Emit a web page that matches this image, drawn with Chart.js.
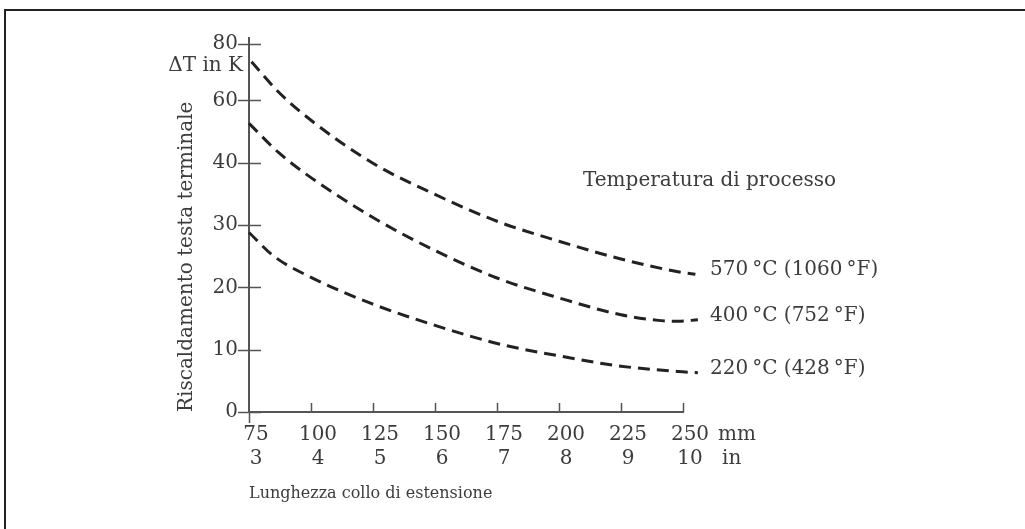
<!DOCTYPE html>
<html>
<head>
<meta charset="utf-8">
<script src="https://cdn.jsdelivr.net/npm/chart.js@4"></script>
<style>
  html, body { margin: 0; padding: 0; background: #fff; }
  #wrap { width: 1025px; height: 529px; }
</style>
</head>
<body>
<div id="wrap"><canvas id="myChart"></canvas></div>
<script>
// x axis: extension length in mm, with the inch value below
const xTicks = [75, 100, 125, 150, 175, 200, 225, 250];
const inchLabels = ['3', '4', '5', '6', '7', '8', '9', '10'];

// y axis tick positions and the labels printed on them
const yTickPos = [0, 10, 20, 30, 40, 50, 59];
const yTickText = ['0', '10', '20', '30', '40', '60', '80'];

// curves (length in mm, heating in K)
const len570 = [76, 87, 100, 125, 150, 175, 200, 225, 248, 255];
const dT570 = [56.2, 51.3, 46.8, 39.9, 34.9, 30.6, 27.4, 24.55, 22.5, 22.1];

const len400 = [75, 87, 100, 125, 150, 175, 200, 225, 240, 248, 256];
const dT400 = [46.3, 41.6, 37.6, 31.2, 25.9, 21.5, 18.3, 15.6, 14.7, 14.55, 14.8];

const len220 = [75, 85, 100, 125, 150, 175, 200, 225, 248, 256];
const dT220 = [28.8, 25.0, 21.6, 17.3, 13.9, 11.0, 9.0, 7.35, 6.5, 6.3];

const seriesNames = ['570\u202F°C (1060\u202F°F)', '400\u202F°C (752\u202F°F)', '220\u202F°C (428\u202F°F)'];

const FONT = "'DejaVu Serif', serif";
const TEXT = '#3c3c3c';
const AXIS = '#555';

function pts(xs, ys) {
    return xs.map((x, i) => ({ x: x, y: ys[i] }));
}

function curve(label, xs, ys) {
    return {
        label: label,
        data: pts(xs, ys),
        borderColor: '#222',
        borderWidth: 3,
        borderDash: [12, 7],
        pointRadius: 0,
        fill: false,
        cubicInterpolationMode: 'monotone',
        clip: false
    };
}

const extras = {
    id: 'extras',
    afterDraw(chart) {
        const ctx = chart.ctx;
        const xs = chart.scales.x;
        const ys = chart.scales.y;
        const y0 = ys.getPixelForValue(0);
        const x0 = xs.getPixelForValue(75);
        ctx.save();

        // frame
        ctx.strokeStyle = '#222';
        ctx.lineWidth = 2;
        ctx.strokeRect(5, 10, 1100, 600);

        // ticks
        ctx.strokeStyle = AXIS;
        ctx.lineWidth = 1.5;
        ctx.beginPath();
        yTickPos.forEach(v => {
            const p = Math.round(ys.getPixelForValue(v)) + 0.5;
            ctx.moveTo(x0 - 11, p);
            ctx.lineTo(x0 + 12, p);
        });
        xTicks.forEach((v, i) => {
            const p = Math.round(xs.getPixelForValue(v)) + 0.5;
            if (i === 0) {
                ctx.moveTo(p, y0);
                ctx.lineTo(p, y0 + 11);
            } else {
                ctx.moveTo(p, y0);
                ctx.lineTo(p, y0 - 9);
            }
        });
        ctx.stroke();

        // texts
        ctx.fillStyle = TEXT;
        ctx.font = '20px ' + FONT;
        ctx.textBaseline = 'middle';
        ctx.textAlign = 'right';
        ctx.fillText('ΔT in K', x0 - 6, 66);

        ctx.textAlign = 'left';
        ctx.fillText('Temperatura di processo', 583, 181);

        const lastX = xs.getPixelForValue(250);
        ctx.fillText('mm', lastX + 35, 435);
        ctx.fillText('in', lastX + 39, 459);

        chart.data.datasets.forEach((ds, i) => {
            const last = ds.data[ds.data.length - 1];
            ctx.fillText(seriesNames[i], 710, ys.getPixelForValue(last.y) - 4);
        });
        ctx.restore();
    }
};

new Chart(document.getElementById('myChart'), {
    type: 'line',
    data: {
        datasets: [
            curve(seriesNames[0], len570, dT570),
            curve(seriesNames[1], len400, dT400),
            curve(seriesNames[2], len220, dT220)
        ]
    },
    options: {
        responsive: true,
        maintainAspectRatio: false,
        animation: false,
        layout: { padding: { left: 0, right: 342, top: 38, bottom: 0 } },
        plugins: {
            legend: { display: false },
            tooltip: { enabled: false }
        },
        scales: {
            x: {
                type: 'linear',
                min: 75,
                max: 250,
                afterBuildTicks: s => { s.ticks = xTicks.map(v => ({ value: v })); },
                afterFit: s => { s.height = 117; },
                grid: { display: false, drawTicks: false, tickLength: 0 },
                border: { display: true, color: AXIS, width: 2 },
                ticks: {
                    padding: 11,
                    labelOffset: 7,
                    maxRotation: 0,
                    autoSkip: false,
                    color: TEXT,
                    font: { family: FONT, size: 20, lineHeight: 1.2 },
                    callback: (v) => {
                        const i = xTicks.indexOf(v);
                        return [String(v), inchLabels[i]];
                    }
                },
                title: {
                    display: true,
                    text: 'Lunghezza collo di estensione',
                    align: 'start',
                    color: TEXT,
                    font: { family: FONT, size: 16, lineHeight: 1.2 },
                    padding: { top: 0, bottom: 26 }
                }
            },
            y: {
                type: 'linear',
                min: 0,
                max: 60,
                afterBuildTicks: s => { s.ticks = yTickPos.map(v => ({ value: v })); },
                afterFit: s => { s.width = 249; },
                grid: { display: false, drawTicks: false, tickLength: 0 },
                border: { display: true, color: AXIS, width: 2 },
                ticks: {
                    padding: 11,
                    autoSkip: false,
                    color: TEXT,
                    font: { family: FONT, size: 20, lineHeight: 1.2 },
                    callback: (v) => yTickText[yTickPos.indexOf(v)]
                },
                title: {
                    display: true,
                    text: 'Riscaldamento testa terminale',
                    align: 'start',
                    color: TEXT,
                    font: { family: FONT, size: 20, lineHeight: 1.2 },
                    padding: { top: 175, bottom: 0 }
                }
            }
        }
    },
    plugins: [extras]
});
</script>
</body>
</html>
